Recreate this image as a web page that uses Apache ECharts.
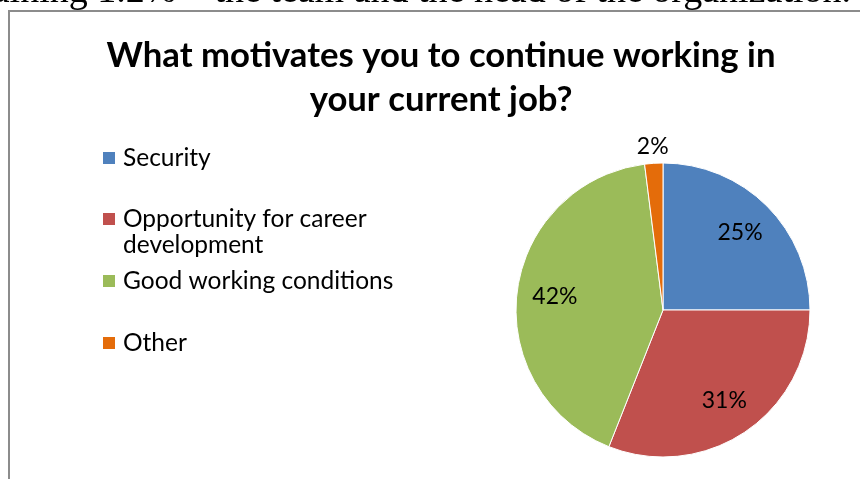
<!DOCTYPE html>
<html>
<head>
<meta charset="utf-8">
<script src="https://cdn.jsdelivr.net/npm/echarts@6/dist/echarts.min.js"></script>
<style>
  html, body { margin: 0; padding: 0; background: #fff; }
  #chart { width: 860px; height: 479px; }
</style>
</head>
<body>
<div id="chart"></div>
<script>
// Survey answers: share of respondents per motivation (%)
const categories = ['Security', 'Opportunity for career development', 'Good working conditions', 'Other'];
const shares = [25, 31, 42, 2];
const sliceColors = ['#4f81bd', '#c0504d', '#9bbb59', '#e46c0a'];

const titleLines = ['What motivates you to continue working in', 'your current job?'];
const precedingText = 'aining 1.2% – the team and the head of the organization.';

const FONT = 'Lato, "Open Sans", sans-serif';

const pieData = categories.map((name, i) => ({
  name,
  value: shares[i],
  itemStyle: { color: sliceColors[i] }
}));

// Transparent copies of the pie that only carry the percentage labels
function labelLayer(radius, showFor) {
  return {
    type: 'pie',
    silent: true,
    center: [663, 310],
    radius: radius,
    startAngle: 90,
    clockwise: true,
    z: 5,
    itemStyle: { color: 'rgba(0,0,0,0)', borderWidth: 0 },
    emphasis: { disabled: true },
    labelLine: { show: false },
    data: categories.map((name, i) => ({
      name,
      value: shares[i],
      itemStyle: { color: 'rgba(0,0,0,0)' },
      label: {
        show: showFor(i),
        position: 'inside',
        formatter: '{c}%',
        fontFamily: FONT,
        fontSize: 23,
        color: '#000'
      }
    }))
  };
}

const legendText = {
  fontFamily: FONT,
  fontSize: 24.5,
  lineHeight: 26,
  color: '#000',
  padding: [0, 0, 0, 2]
};

function legendEntry(name, top, extra) {
  return Object.assign({
    orient: 'vertical',
    left: 101,
    top: top,
    padding: 0,
    itemWidth: 14,
    itemHeight: 14,
    icon: 'rect',
    selectedMode: false,
    data: [name],
    textStyle: legendText
  }, extra || {});
}

const chart = echarts.init(document.getElementById('chart'), null, { renderer: 'canvas' });

chart.setOption({
  backgroundColor: '#fff',
  animation: false,
  title: {
    text: titleLines.join('\n'),
    left: 441,
    top: 34,
    textAlign: 'center',
    padding: 0,
    textStyle: {
      fontFamily: FONT,
      fontWeight: 'bold',
      fontSize: 34.7,
      lineHeight: 44,
      color: '#000'
    }
  },
  legend: [
    legendEntry(categories[0], 145),
    // wrapped entry: marker sits beside the first line
    legendEntry(categories[1], 180, {
      formatter: () => '\nOpportunity for career\ndevelopment'
    }),
    legendEntry(categories[2], 268),
    legendEntry(categories[3], 330)
  ],
  graphic: [
    {
      type: 'rect',
      shape: { x: 9, y: 11, width: 900, height: 520 },
      style: { fill: 'none', stroke: '#8c8c8c', lineWidth: 2 },
      silent: true,
      z: 0
    },
    {
      type: 'text',
      right: 9,
      top: -27,
      style: {
        text: precedingText,
        font: '38px "Liberation Serif", "DejaVu Serif", serif',
        fill: '#000'
      },
      silent: true
    }
  ],
  series: [
    {
      type: 'pie',
      center: [663, 310],
      radius: 147,
      startAngle: 90,
      clockwise: true,
      z: 2,
      label: { show: false },
      labelLine: { show: false },
      emphasis: { disabled: true },
      itemStyle: { borderColor: '#fff', borderWidth: 1 },
      data: pieData
    },
    labelLayer(212, i => i < 3),
    labelLayer(322, i => i === 3)
  ]
});
</script>
</body>
</html>
